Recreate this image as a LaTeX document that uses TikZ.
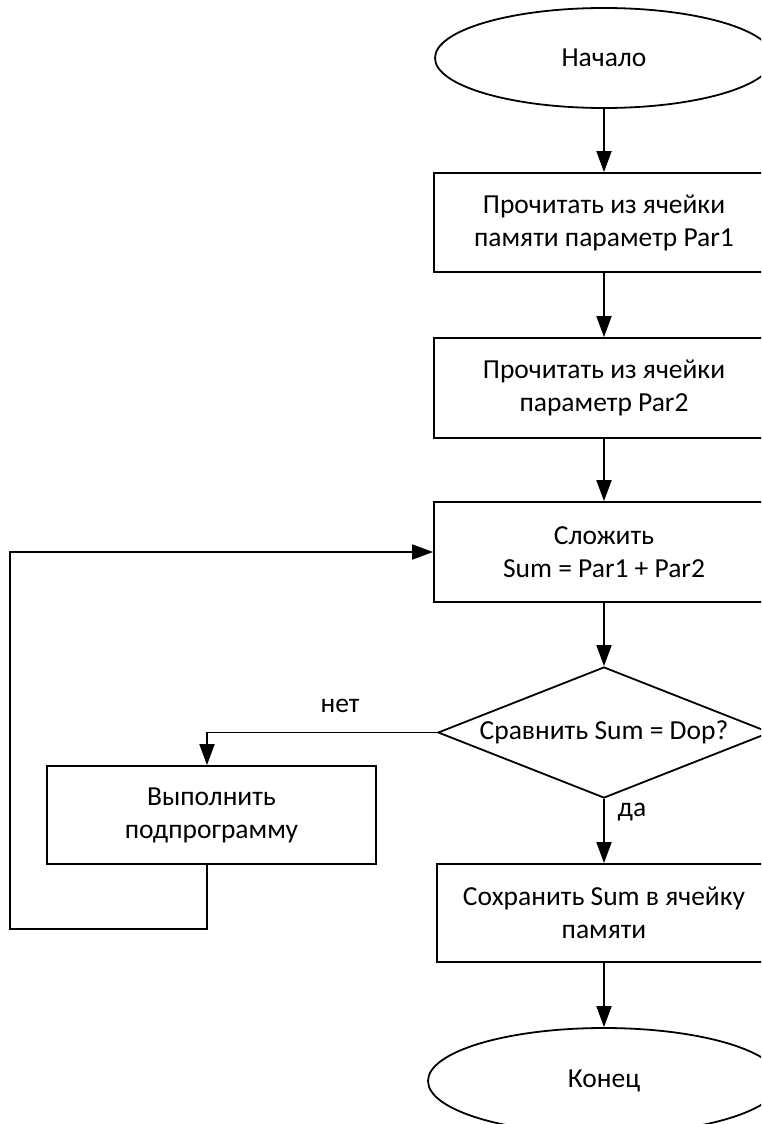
\documentclass[tikz,border=0pt]{standalone}
\usepackage{fontspec}
\setmainfont{Carlito}
\usetikzlibrary{shapes.geometric,arrows.meta}

\tikzset{
  flow/.style={draw=black, line width=1.8pt},
  term/.style={flow, ellipse, inner sep=0pt},
  proc/.style={flow, rectangle, inner sep=0pt, align=center},
  decide/.style={flow, diamond, inner sep=0pt, aspect=2.53},
  conn/.style={line width=1.8pt, -{Triangle[length=21pt,width=15pt]}},
  lbl/.style={inner sep=0pt}
}

\begin{document}
\begin{tikzpicture}[x=1pt, y=-1pt, font=\fontsize{27.5}{33}\selectfont]
  \useasboundingbox (0,0) rectangle (761,1124);
  \clip (0,0) rectangle (761,1124);

  % main column
  \node[term, minimum width=338pt, minimum height=100pt] (start) at (604,58) {Начало};
  \node[proc, minimum width=340pt, minimum height=99pt] (read1) at (604,222.5)
    {Прочитать из ячейки\\памяти параметр Par1};
  \node[proc, minimum width=340pt, minimum height=100pt] (read2) at (604,388)
    {Прочитать из ячейки\\параметр Par2};
  \node[proc, minimum width=340pt, minimum height=100pt] (add) at (604,552)
    {Сложить\\Sum = Par1 + Par2};
  \node[decide, minimum width=332pt, minimum height=131pt] (cmp) at (604,732.5)
    {Сравнить Sum = Dop?};
  \node[proc, minimum width=334pt, minimum height=98pt] (save) at (604,913)
    {Сохранить Sum в ячейку\\памяти};
  \node[term, minimum width=352pt, minimum height=106pt] (stop) at (604,1081) {Конец};

  % side branch
  \node[proc, minimum width=329pt, minimum height=98pt] (sub) at (211.5,815)
    {Выполнить\\подпрограмму};

  \coordinate (bx) at (207,0);
  \coordinate (loopdown) at (207,929);
  \coordinate (loopleft) at (10,929);

  % connectors
  \draw[conn] (start) -- (read1);
  \draw[conn] (read1) -- (read2);
  \draw[conn] (read2) -- (add);
  \draw[conn] (add) -- (cmp);
  \draw[conn] (cmp) -- (save);
  \draw[conn] (save) -- (stop);
  \draw[conn] (cmp.west) -- (bx |- cmp.west) -- (bx |- sub.north);
  \draw[conn] (bx |- sub.south) -- (loopdown) -- (loopleft) -- (loopleft |- add.west) -- (add.west);

  % branch labels
  \node[lbl] (no) at (340,706) {нет};
  \node[lbl] (yes) at (632,812) {да};
\end{tikzpicture}
\end{document}
